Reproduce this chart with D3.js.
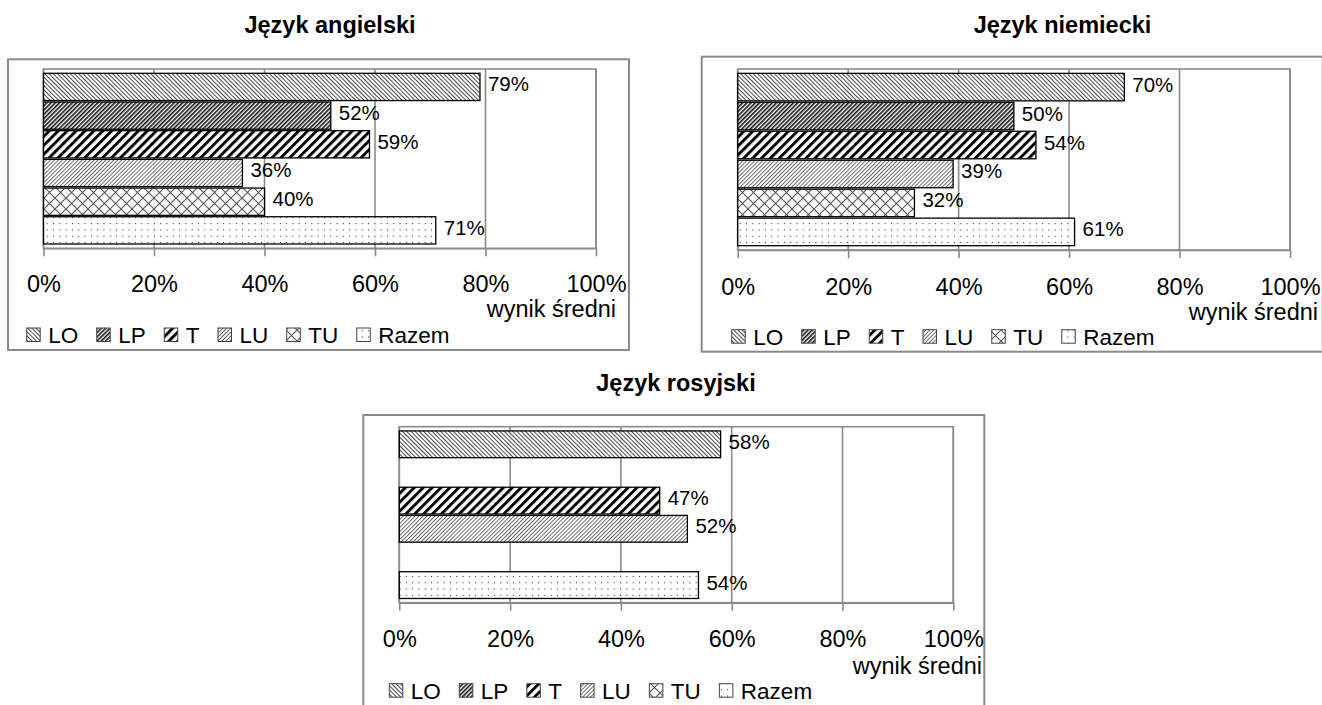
<!DOCTYPE html>
<html><head><meta charset="utf-8">
<script src="https://cdn.jsdelivr.net/npm/d3@7"></script>
<style>
body{margin:0;background:#fff}
text{font-family:"Liberation Sans",Arial,sans-serif;fill:#000}
</style>
</head><body>
<svg id="c" width="1322" height="705"></svg>
<script>
// ---- data ----
const categories = ["LO", "LP", "T", "LU", "TU", "Razem"];
const titles = ["Język angielski", "Język niemiecki", "Język rosyjski"];
const angielski = [0.79, 0.52, 0.59, 0.36, 0.40, 0.71];
const niemiecki = [0.70, 0.50, 0.54, 0.39, 0.32, 0.61];
const rosyjski  = [0.58, null, 0.47, 0.52, null, 0.54];
const xTicks = [0, 0.2, 0.4, 0.6, 0.8, 1.0];
const axisTitle = "wynik średni";

const seriesList = [angielski, niemiecki, rosyjski];

// ---- layout (positions only) ----
const layouts = [
  {frame:[8,59.3,621,290.7], plot:[43.5,69,596,248.3], titleX:330, titleY:33.3, tickY:292.3, axisTitleX:616, axisTitleY:317.3, legendX:26.7, legendY:343.3},
  {frame:[701.7,56.7,621,295], plot:[737.7,69,1290,250], titleX:1062.5, titleY:33.3, tickY:295, axisTitleX:1318, axisTitleY:320, legendX:731.7, legendY:345},
  {frame:[363.3,415,621,330], plot:[399.3,426.7,953.3,602.7], titleX:676, titleY:391, tickY:646.7, axisTitleX:982, axisTitleY:674, legendX:389.3, legendY:699}
];

const GRID = "#8a8a8a";
const svg = d3.select("#c");
const defs = svg.append("defs");

function stripePattern(id, size, width, color, angle) {
  const p = defs.append("pattern").attr("id", id)
    .attr("patternUnits", "userSpaceOnUse")
    .attr("width", size).attr("height", size)
    .attr("patternTransform", `rotate(${angle})`);
  p.append("rect").attr("width", size).attr("height", size).attr("fill", "#fff").attr("fill-opacity", 0.8);
  p.append("rect").attr("x", 0).attr("width", width).attr("height", size).attr("fill", color);
}
stripePattern("pLO", 3.0, 0.9, "#333", -45);
stripePattern("pLP", 3.0, 1.6, "#111", 45);
stripePattern("pT", 6.3, 2.9, "#000", 45);
stripePattern("pLU", 2.8, 0.85, "#555", 45);
(function(){
  const p = defs.append("pattern").attr("id", "pTU")
    .attr("patternUnits", "userSpaceOnUse").attr("width", 11).attr("height", 11);
  p.append("rect").attr("width", 11).attr("height", 11).attr("fill", "#fff").attr("fill-opacity", 0.8);
  p.append("path").attr("d", "M0,0L11,11M11,0L0,11").attr("stroke", "#555").attr("stroke-width", 1.1);
  const q = defs.append("pattern").attr("id", "pRazem")
    .attr("patternUnits", "userSpaceOnUse").attr("width", 6.3).attr("height", 6.3);
  q.append("rect").attr("width", 6.3).attr("height", 6.3).attr("fill", "#fff").attr("fill-opacity", 0.85);
  q.append("rect").attr("x", 2.6).attr("y", 2.6).attr("width", 1.1).attr("height", 1.1).attr("fill", "#333");
})();
const fills = categories.map(c => `url(#p${c})`);

seriesList.forEach((values, i) => {
  const L = layouts[i];
  const g = svg.append("g");
  // frame
  g.append("rect").attr("x", L.frame[0]).attr("y", L.frame[1])
    .attr("width", L.frame[2]).attr("height", L.frame[3])
    .attr("fill", "none").attr("stroke", GRID).attr("stroke-width", 2);
  // title
  g.append("text").attr("x", L.titleX).attr("y", L.titleY)
    .attr("text-anchor", "middle").attr("font-weight", "bold")
    .attr("font-size", "23.5px").text(titles[i]);

  const [x0, y0, x1, y1] = L.plot;
  const x = d3.scaleLinear().domain([0, 1]).range([x0, x1]);
  const y = d3.scaleBand().domain(categories).range([y0, y1])
    .paddingInner(0.05).paddingOuter(0.15);

  // plot area border + gridlines
  g.append("rect").attr("x", x0).attr("y", y0).attr("width", x1 - x0).attr("height", y1 - y0)
    .attr("fill", "none").attr("stroke", GRID).attr("stroke-width", 1.6);
  g.selectAll(".grid").data(xTicks).join("line")
    .attr("x1", d => x(d)).attr("x2", d => x(d)).attr("y1", y0).attr("y2", y1)
    .attr("stroke", GRID).attr("stroke-width", 1.6);

  // axis
  const ax = g.append("g").attr("transform", `translate(0,${y1})`)
    .call(d3.axisBottom(x).tickValues(xTicks).tickSize(8).tickSizeOuter(0).tickFormat(d3.format(".0%")));
  ax.select(".domain").attr("stroke", GRID).attr("stroke-width", 1.6);
  ax.selectAll(".tick line").attr("stroke", GRID).attr("stroke-width", 1.6);
  ax.selectAll(".tick text").attr("y", L.tickY - y1).attr("dy", 0)
    .attr("font-size", "23.5px").attr("font-family", '"Liberation Sans",Arial,sans-serif').attr("fill", "#000");

  // bars
  const data = categories.map((c, k) => ({c, v: values[k], k})).filter(d => d.v != null);
  g.selectAll(".bar").data(data).join("rect")
    .attr("x", x(0)).attr("y", d => y(d.c))
    .attr("width", d => x(d.v) - x(0)).attr("height", y.bandwidth())
    .attr("fill", d => fills[d.k]).attr("stroke", "#000").attr("stroke-width", 1.3);
  g.selectAll(".lbl").data(data).join("text")
    .attr("x", d => x(d.v) + 8).attr("y", d => y(d.c) + y.bandwidth() / 2 + 4.5)
    .attr("font-size", "20.5px").text(d => d3.format(".0%")(d.v));

  // axis title
  g.append("text").attr("x", L.axisTitleX).attr("y", L.axisTitleY)
    .attr("text-anchor", "end").attr("font-size", "23.5px").text(axisTitle);

  // legend
  let lx = L.legendX;
  categories.forEach((c, k) => {
    g.append("rect").attr("x", lx).attr("y", L.legendY - 15.3).attr("width", 13.5).attr("height", 13.5)
      .attr("fill", fills[k]).attr("stroke", "#444").attr("stroke-width", 1);
    const t = g.append("text").attr("x", lx + 13.5 + 8).attr("y", L.legendY)
      .attr("font-size", "22.5px").text(c);
    lx += 13.5 + 8 + t.node().getComputedTextLength() + 18.5;
  });
});
</script>
</body></html>
